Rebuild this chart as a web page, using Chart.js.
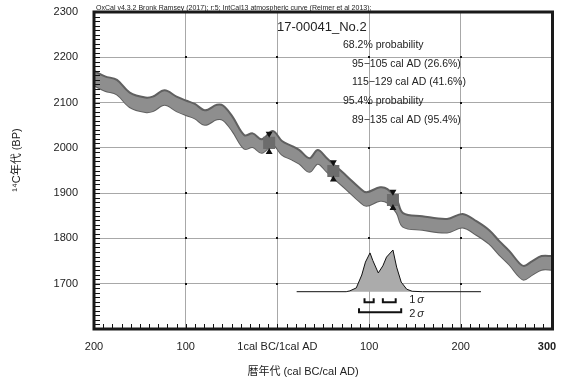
<!DOCTYPE html>
<html>
<head>
<meta charset="utf-8">
<script src="https://cdn.jsdelivr.net/npm/chart.js@4.4.0/dist/chart.umd.min.js"></script>
<style>
  body { margin: 0; background: #fff; }
</style>
</head>
<body>
<canvas id="chart" width="561" height="388"></canvas>
<script>
// IntCal13 curve: cal year (BC negative), 14C BP, band half width
const curveYears = [-200, -188, -175, -161, -144, -136, -123, -110, -99, -90, -79, -66, -59, -49, -36, -27, -17, -5, 5, 16, 24, 35, 44, 54, 61, 76, 90, 97, 112, 120, 130, 137, 158, 185, 202, 217, 231, 242, 253, 264, 269, 278, 288, 300];
const curveBP = [2154, 2142, 2134, 2106, 2095, 2097, 2111, 2097, 2088, 2081, 2067, 2079, 2077, 2053, 2013, 2017, 2004, 2022, 2000, 1989, 1980, 1962, 1980, 1962, 1949, 1922, 1896, 1887, 1898, 1894, 1872, 1841, 1834, 1828, 1839, 1823, 1803, 1779, 1757, 1730, 1724, 1735, 1746, 1746];
const curveSigma = [16, 16, 16, 16, 16, 16, 16, 16, 16, 16, 16, 16, 16, 16, 15, 15, 15, 15, 15, 15, 15, 15, 15, 15, 15, 15, 15, 15, 15, 15, 15, 15, 15, 15, 15, 15, 15, 15, 15, 15, 15, 15, 15, 15];

// points with error bars
const markYears = [-9, 61, 126];
const markBP = [2011, 1949, 1885];
const markErr = [20, 19, 18];

// probability distribution of the sample
const probYears = [21, 75, 79, 86, 92, 96, 101, 104, 110, 115, 119, 126, 130, 135, 141, 147, 158, 222];
const probValues = [0, 0, 0.02, 0.09, 0.40, 0.71, 0.93, 0.75, 0.45, 0.62, 0.83, 1.0, 0.59, 0.23, 0.06, 0.01, 0, 0];

const oneSigmaRanges = [[95, 105], [115, 129]];
const twoSigmaRanges = [[89, 135]];

const xTickValues = [-200, -100, 0, 100, 200, 300];
const xTickLabels = ['200', '100', '1cal BC/1cal AD', '100', '200', '300\u2003'];
const yTickValues = [1600, 1700, 1800, 1900, 2000, 2100, 2200, 2300];

const headerText = 'OxCal v4.3.2 Bronk Ramsey (2017); r:5; IntCal13 atmospheric curve (Reimer et al 2013);';
const sampleName = '17-00041_No.2';
const resultLines = [
    { text: '68.2% probability', indent: false },
    { text: '95\u2212105 cal AD (26.6%)', indent: true },
    { text: '115\u2212129 cal AD (41.6%)', indent: true },
    { text: '95.4% probability', indent: false },
    { text: '89\u2212135 cal AD (95.4%)', indent: true }
];
const xTitle = '暦年代 (cal BC/cal AD)';
const yTitle = '\u00b9\u2074C年代 (BP)';

const FONT = "'Liberation Sans', 'Noto Sans CJK JP', sans-serif";
Chart.defaults.font.family = FONT;
Chart.defaults.color = '#222';

const upperBand = curveYears.map((x, i) => ({ x: x, y: curveBP[i] + curveSigma[i] }));
const lowerBand = curveYears.map((x, i) => ({ x: x, y: curveBP[i] - curveSigma[i] }));
const marks = markYears.map((x, i) => ({ x: x, y: markBP[i] }));
const marksTop = markYears.map((x, i) => ({ x: x, y: markBP[i] + markErr[i] }));
const marksBottom = markYears.map((x, i) => ({ x: x, y: markBP[i] - markErr[i] }));
const probPoints = probYears.map((x, i) => ({ x: x, y: probValues[i] }));

const extras = {
    id: 'extras',
    beforeDatasetsDraw(chart) {
        const { ctx, scales: { x, y } } = chart;
        ctx.save();
        ctx.fillStyle = '#111';
        xTickValues.slice(1, -1).forEach(xv => {
            yTickValues.slice(1, -1).forEach(yv => {
                const px = Math.round(x.getPixelForValue(xv));
                const py = Math.round(y.getPixelForValue(yv));
                ctx.fillRect(px - 1, py - 1, 2, 2);
            });
        });
        ctx.restore();
    },
    afterDraw(chart) {
        const { ctx, chartArea: a, scales: { x, y, yp } } = chart;
        ctx.save();

        // minor ticks
        ctx.strokeStyle = '#111';
        ctx.lineWidth = 1;
        ctx.beginPath();
        for (let v = -200; v <= 300; v += 10) {
            const px = Math.round(x.getPixelForValue(v)) + 0.5;
            ctx.moveTo(px, a.bottom);
            ctx.lineTo(px, a.bottom - 5);
        }
        for (let v = 1600; v <= 2300; v += 10) {
            const py = Math.round(y.getPixelForValue(v)) + 0.5;
            ctx.moveTo(a.left, py);
            ctx.lineTo(a.left + 6, py);
        }
        ctx.stroke();

        // frame
        ctx.lineWidth = 3;
        ctx.strokeStyle = '#1a1a1a';
        ctx.strokeRect(a.left, a.top, a.right - a.left, a.bottom - a.top);

        // sigma brackets
        const base = yp.getPixelForValue(0);
        ctx.lineWidth = 2;
        ctx.strokeStyle = '#111';
        const bracket = (r, yb) => {
            const x1 = x.getPixelForValue(r[0]);
            const x2 = x.getPixelForValue(r[1]);
            ctx.beginPath();
            ctx.moveTo(x1, yb - 4);
            ctx.lineTo(x1, yb);
            ctx.lineTo(x2, yb);
            ctx.lineTo(x2, yb - 4);
            ctx.stroke();
        };
        oneSigmaRanges.forEach(r => bracket(r, base + 10.5));
        twoSigmaRanges.forEach(r => bracket(r, base + 20.5));

        const sx = x.getPixelForValue(twoSigmaRanges[0][1]) + 8;
        ctx.fillStyle = '#222';
        ctx.textBaseline = 'middle';
        ctx.textAlign = 'left';
        [['1', base + 8.5], ['2', base + 22.5]].forEach(([n, ty]) => {
            ctx.font = '11px ' + FONT;
            ctx.fillText(n, sx, ty);
            const w = ctx.measureText(n).width;
            ctx.font = 'italic 11px ' + FONT;
            ctx.fillText('\u03c3', sx + w + 2, ty);
        });

        // header
        ctx.textBaseline = 'alphabetic';
        ctx.font = '7px ' + FONT;
        ctx.fillText(headerText, a.left + 2, 10);

        // sample name and ranges
        ctx.textBaseline = 'middle';
        ctx.font = '13px ' + FONT;
        ctx.fillText(sampleName, 277, 27);
        ctx.font = '10.5px ' + FONT;
        resultLines.forEach((l, i) => {
            ctx.fillText(l.text, l.indent ? 352 : 343, 45 + i * 18.7);
        });

        // axis titles
        ctx.textAlign = 'center';
        ctx.font = '11px ' + FONT;
        ctx.fillText(xTitle, 303, 372);
        ctx.translate(17, 160);
        ctx.rotate(-Math.PI / 2);
        ctx.fillText(yTitle, 0, 0);
        ctx.restore();
    }
};

const ctx = document.getElementById('chart').getContext('2d');
new Chart(ctx, {
    type: 'line',
    data: {
        datasets: [
            {
                data: upperBand,
                borderColor: '#606060',
                borderWidth: 2,
                backgroundColor: '#8e8e8e',
                fill: '+1',
                pointRadius: 0,
                tension: 0.35,
                order: 3
            },
            {
                data: lowerBand,
                borderColor: '#606060',
                borderWidth: 2,
                fill: false,
                pointRadius: 0,
                tension: 0.35,
                order: 3
            },
            {
                data: probPoints,
                yAxisID: 'yp',
                borderColor: '#111',
                borderWidth: 1,
                backgroundColor: '#ababab',
                fill: 'origin',
                pointRadius: 0,
                tension: 0,
                order: 2
            },
            {
                type: 'scatter',
                data: marks,
                pointStyle: 'rect',
                pointRadius: 8.5,
                backgroundColor: '#6c6c6c',
                borderWidth: 0,
                order: 1
            },
            {
                type: 'scatter',
                data: marksTop,
                pointStyle: 'triangle',
                rotation: 180,
                pointRadius: 4,
                backgroundColor: '#111',
                borderWidth: 0,
                order: 0
            },
            {
                type: 'scatter',
                data: marksBottom,
                pointStyle: 'triangle',
                pointRadius: 4,
                backgroundColor: '#111',
                borderWidth: 0,
                order: 0
            }
        ]
    },
    options: {
        responsive: false,
        animation: false,
        layout: {
            padding: { top: 12, right: 8, left: 0, bottom: 0 }
        },
        plugins: {
            legend: { display: false },
            tooltip: { enabled: false }
        },
        scales: {
            x: {
                type: 'linear',
                min: -200,
                max: 300,
                afterBuildTicks: function(scale) {
                    scale.ticks = xTickValues.map(v => ({ value: v }));
                },
                afterFit: function(scale) {
                    scale.height = 59;
                    scale.paddingLeft = 0;
                    scale.paddingRight = 0;
                },
                ticks: {
                    padding: 11,
                    color: '#222',
                    maxRotation: 0,
                    autoSkip: false,
                    font: function(c) {
                        return { size: 11, weight: c.tick && c.tick.value === 300 ? 'bold' : 'normal' };
                    },
                    callback: function(value) {
                        return xTickLabels[xTickValues.indexOf(value)];
                    }
                },
                grid: { color: '#a8a8a8', drawTicks: false },
                border: { display: false }
            },
            y: {
                min: 1600,
                max: 2300,
                afterBuildTicks: function(scale) {
                    scale.ticks = yTickValues.map(v => ({ value: v }));
                },
                afterFit: function(scale) {
                    scale.width = 94;
                    scale.paddingTop = 0;
                    scale.paddingBottom = 0;
                },
                ticks: {
                    padding: 16,
                    color: '#222',
                    font: { size: 11 },
                    callback: function(value) {
                        return value === 1600 ? '' : value;
                    }
                },
                grid: { color: '#a8a8a8', drawTicks: false },
                border: { display: false }
            },
            yp: {
                display: false,
                position: 'right',
                min: -0.8945,
                max: 6.707
            }
        }
    },
    plugins: [extras]
});
</script>
</body>
</html>
